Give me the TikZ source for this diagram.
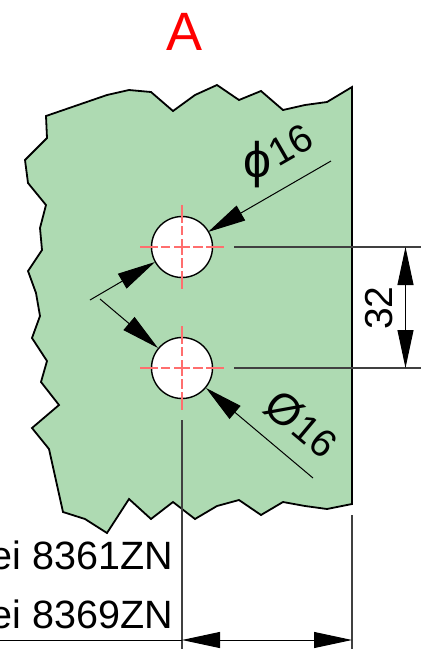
\documentclass[tikz,border=0pt]{standalone}
\usepackage{fontspec}
\setmainfont{Liberation Sans}
\usetikzlibrary{arrows.meta}
\definecolor{platefill}{HTML}{AEDAB2}
\definecolor{centercol}{HTML}{FF6E6E}
\definecolor{extcol}{HTML}{404040}
\tikzset{
  plate/.style={draw=black,line width=1.8pt,fill=platefill,line join=miter},
  hole/.style={circle,draw=black,line width=1.4pt,fill=white,minimum size=61pt,inner sep=0pt},
  centerline/.style={centercol,line width=1.5pt,dash pattern=on 18pt off 3pt on 9pt off 4pt on 16pt off 3pt on 10pt off 3pt on 18pt},
  extline/.style={extcol,line width=1.3pt},
  dimline/.style={black,line width=1pt,{Triangle[length=38pt,width=16pt]}-{Triangle[length=38pt,width=16pt]}},
  leader/.style={black,line width=1pt,-{Triangle[length=38pt,width=17pt]}},
  dimtext/.style={inner sep=0pt,font=\fontsize{39}{39}\selectfont},
  labeltext/.style={inner sep=0pt,anchor=base east,font=\fontsize{39.5}{39.5}\selectfont},
}
\begin{document}
\begin{tikzpicture}[x=1pt,y=-1pt]
  \useasboundingbox (0,0) rectangle (421,649);
  \clip (0,0) rectangle (421,649);
  \node[text=red,inner sep=0pt,anchor=base,font=\fontsize{54}{54}\selectfont] (title) at (185,50) {A};
  % plate outline
  \draw[plate] (352,87) -- (327,102) -- (305,105) -- (283,110) -- (261,91) -- (239,100) -- (217,85)
    -- (195,95) -- (173,111) -- (151,92) -- (129,90) -- (107,95) -- (46,116) -- (47,138) -- (25,160)
    -- (28,183) -- (46,205) -- (40,228) -- (42,250) -- (28,271) -- (36,293) -- (40,316) -- (32,338)
    -- (47,361) -- (41,382) -- (59,405) -- (32,428) -- (49,449) -- (63,512) -- (85,519) -- (107,533)
    -- (129,499) -- (151,519) -- (173,502) -- (195,519) -- (217,506) -- (239,500) -- (261,515)
    -- (283,502) -- (305,506) -- (327,509) -- (352,504) -- cycle;
  % holes
  \node[hole] (holeA) at (182,247) {};
  \node[hole] (holeB) at (182,368) {};
  \foreach \h in {holeA,holeB} {
    \draw[centerline] ([xshift=-42pt]\h.center) -- ([xshift=42pt]\h.center);
    \draw[centerline] ([yshift=42pt]\h.center) -- ([yshift=-42pt]\h.center);
  }
  % extension lines
  \coordinate (extA) at (234,247);
  \coordinate (extAr) at (421,247);
  \coordinate (extB) at (234,368);
  \coordinate (extBr) at (421,368);
  \coordinate (dimA) at (405.5,247);
  \coordinate (dimB) at (405.5,368);
  \draw[extline] (extA) -- (extAr);
  \draw[extline] (extB) -- (extBr);
  \draw[dimline] (dimA) -- (dimB);
  \node[dimtext,rotate=90] (dimV) at (379,308) {32};
  \coordinate (extC) at (182,420);
  \coordinate (extCb) at (182,649);
  \coordinate (extD) at (352,515);
  \coordinate (extDb) at (352,649);
  \draw[extline] (extC) -- (extCb);
  \draw[extline] (extD) -- (extDb);
  \coordinate (dimC) at (182,640);
  \coordinate (dimD) at (352,640);
  \coordinate (dimE) at (0,640);
  \draw[dimline] (dimC) -- (dimD);
  \draw[black,line width=1pt] (dimE) -- (dimC);
  % leaders
  \coordinate (upStart) at (331,161);
  \coordinate (upTip) at (208,232);
  \coordinate (lowStart) at (313,478);
  \coordinate (lowTip) at (206,388);
  \coordinate (leftA) at (90,300);
  \coordinate (leftAtip) at (155,262);
  \coordinate (leftB) at (100,299);
  \coordinate (leftBtip) at (158,348);
  \draw[leader] (upStart) -- (upTip);
  \draw[leader] (lowStart) -- (lowTip);
  \draw[leader] (leftA) -- (leftAtip);
  \draw[leader] (leftB) -- (leftBtip);
  % texts
  \node[inner sep=0pt,font=\fontsize{50}{50}\selectfont] (phiUp) at (257,165) {ϕ};
  \node[dimtext,rotate=30] (dimUp) at (291,145) {16};
  \node[inner sep=0pt,rotate=-40,font=\fontsize{44}{44}\selectfont] (phiLow) at (284,410) {Ø};
  \node[dimtext,rotate=-40] (dimLow) at (315,436) {16};
  \node[labeltext] (labelA) at (173,569) {bei 8361ZN};
  \node[labeltext] (labelB) at (173,628) {bei 8369ZN};
\end{tikzpicture}
\end{document}
